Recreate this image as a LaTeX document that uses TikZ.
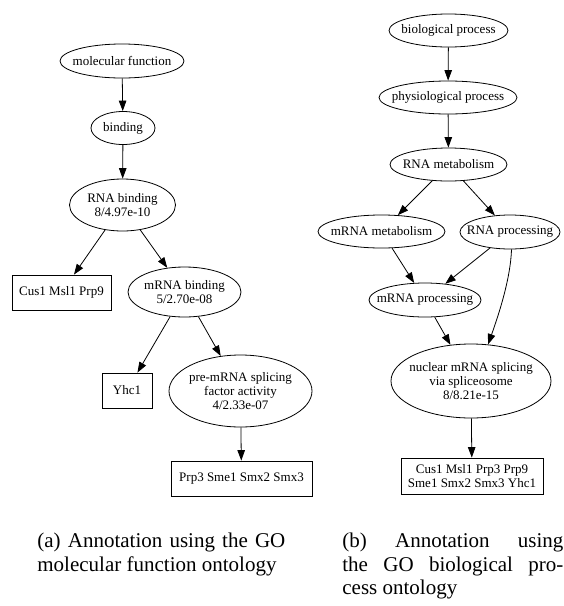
\documentclass[tikz,border=0pt]{standalone}
\usepackage{fontspec}
\setmainfont{Liberation Serif}
\usetikzlibrary{shapes.geometric,arrows.meta}
\hbadness=10000
\begin{document}
\begin{tikzpicture}[x=1pt,y=-1pt,
  line width=0.8pt,
  txt/.style={font=\fontsize{13}{14}\selectfont, align=center, inner sep=0pt},
  oval/.style 2 args={ellipse, draw, minimum width=#1pt, minimum height=#2pt, inner sep=0pt},
  genebox/.style 2 args={rectangle, draw, minimum width=#1pt, minimum height=#2pt, inner sep=0pt,
    font=\fontsize{13}{14}\selectfont, align=center},
  edge/.style={-{Triangle[length=10.5pt,width=7.5pt]}},
  capt/.style={anchor=north west, inner sep=0pt, font=\fontsize{21}{23.5}\selectfont, align=justify}]
\useasboundingbox (0,0) rectangle (564,606);

% ---- (a) molecular function ----
\node[oval={124}{34}, label={[txt]center:molecular function}] (mf) at (122,61) {};
\node[oval={64}{33}, label={[txt]center:binding}] (bind) at (123,128) {};
\node[oval={106}{52}, label={[txt]center:{RNA binding\\8/4.97e-10}}] (rnab) at (122.5,205) {};
\node[genebox={99}{35}] (g1) at (61.5,292.5) {Cus1 Msl1 Prp9};
\node[oval={113}{50}, label={[txt]center:{mRNA binding\\5/2.70e-08}}] (mrnab) at (184.5,292) {};
\node[genebox={50}{35}] (g2) at (127,390.5) {Yhc1};
\node[oval={143}{72}, label={[txt]center:{pre-mRNA splicing\\factor activity\\4/2.33e-07}}] (pre) at (240.5,391) {};
\node[genebox={141}{35}] (g3) at (241.5,478.5) {Prp3 Sme1 Smx2 Smx3};

\draw[edge] (mf) -- (bind);
\draw[edge] (bind) -- (rnab);
\draw[edge] (rnab) -- (g1);
\draw[edge] (rnab) -- (mrnab);
\draw[edge] (mrnab) -- (g2);
\draw[edge] (mrnab) -- (pre);
\draw[edge] (pre) -- (g3);

% ---- (b) biological process ----
\node[oval={119}{33}, label={[txt]center:biological process}] (bp) at (448.5,30.5) {};
\node[oval={138}{33}, label={[txt]center:physiological process}] (pp) at (448,97.5) {};
\node[oval={117}{33}, label={[txt]center:RNA metabolism}] (rm) at (448.5,164.5) {};
\node[oval={127}{33}, label={[txt]center:mRNA metabolism}] (mm) at (381.5,231.5) {};
\node[oval={100}{34}, label={[txt]center:RNA processing}] (rp) at (510,232) {};
\node[oval={112}{34}, label={[txt]center:mRNA processing}] (mp) at (425,300) {};
\node[oval={160}{74}, label={[txt]center:{nuclear mRNA splicing\\via spliceosome\\8/8.21e-15}}] (nu) at (471,381) {};
\node[genebox={142}{36}] (g4) at (472,476) {Cus1 Msl1 Prp3 Prp9\\Sme1 Smx2 Smx3 Yhc1};

\draw[edge] (bp) -- (pp);
\draw[edge] (pp) -- (rm);
\draw[edge] (rm) -- (mm);
\draw[edge] (rm) -- (rp);
\draw[edge] (mm) -- (mp);
\draw[edge] (rp) -- (mp);
\draw[edge] (mp) -- (nu);
\draw[edge] (rp.-85) .. controls +(-1,30) and +(10,-28) .. (nu.65);
\draw[edge] (nu) -- (g4);

% ---- captions ----
\node[capt, text width=248pt] (capa) at (37,533)
  {(a) Annotation using the GO\linebreak molecular function ontology};
\node[capt, text width=221pt] (capb) at (342,533)
  {(b) Annotation using\linebreak the GO biological pro-\linebreak cess ontology};
\end{tikzpicture}
\end{document}
